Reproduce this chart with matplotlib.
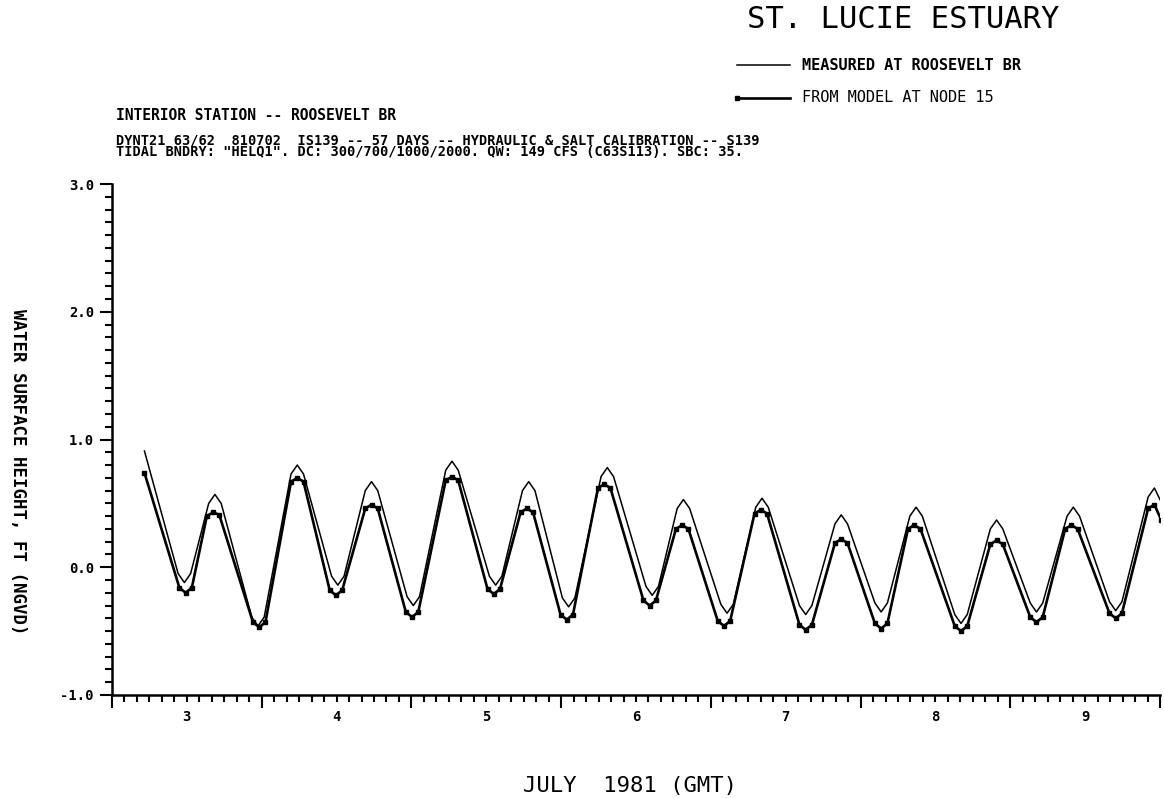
import matplotlib
matplotlib.use("Agg")
import matplotlib.pyplot as plt
from matplotlib.lines import Line2D

# ---- data: hours after 00:00 GMT, 3 July 1981; water surface height, ft NGVD ----
measured_hours = [
    5.2, 10.6, 11.6, 12.6, 15.5, 16.5, 17.5, 22.4, 23.4, 24.4,
    28.7, 29.7, 30.7, 35.2, 36.2, 37.2, 40.6, 41.6, 42.6, 47.3,
    48.3, 49.3, 53.5, 54.5, 55.5, 60.5, 61.5, 62.5, 65.8, 66.8,
    67.8, 72.2, 73.2, 74.2, 78.4, 79.4, 80.4, 85.6, 86.6, 87.6,
    90.6, 91.6, 92.6, 97.6, 98.6, 99.6, 103.2, 104.2, 105.2, 110.2,
    111.2, 112.2, 115.9, 116.9, 117.9, 122.3, 123.3, 124.3, 127.9, 128.9,
    129.9, 135.1, 136.1, 137.1, 140.8, 141.8, 142.8, 147.2, 148.2, 149.2,
    153.1, 154.1, 155.1, 159.9, 160.9, 161.9, 166.1, 167.1, 168.2,
]
measured_ft = [
    0.91, -0.05, -0.12, -0.05, 0.50, 0.57, 0.50, -0.39, -0.46, -0.39,
    0.73, 0.80, 0.73, -0.07, -0.14, -0.07, 0.60, 0.67, 0.60, -0.23,
    -0.30, -0.23, 0.76, 0.83, 0.76, -0.07, -0.14, -0.07, 0.60, 0.67,
    0.60, -0.24, -0.31, -0.24, 0.71, 0.78, 0.71, -0.15, -0.22, -0.15,
    0.46, 0.53, 0.46, -0.29, -0.36, -0.29, 0.47, 0.54, 0.47, -0.30,
    -0.37, -0.30, 0.34, 0.41, 0.34, -0.28, -0.35, -0.28, 0.40, 0.47,
    0.40, -0.37, -0.44, -0.37, 0.30, 0.37, 0.30, -0.28, -0.35, -0.28,
    0.40, 0.47, 0.40, -0.27, -0.34, -0.27, 0.55, 0.62, 0.51,
]

model_hours = [
    5.2, 10.8, 11.8, 12.8, 15.2, 16.2, 17.2, 22.6, 23.6, 24.6,
    28.7, 29.7, 30.7, 34.9, 35.9, 36.9, 40.6, 41.6, 42.6, 47.1,
    48.1, 49.1, 53.5, 54.5, 55.5, 60.2, 61.2, 62.2, 65.5, 66.5,
    67.5, 71.9, 72.9, 73.9, 77.9, 78.9, 79.9, 85.2, 86.2, 87.2,
    90.4, 91.4, 92.4, 97.1, 98.1, 99.1, 103.0, 104.0, 105.0, 110.2,
    111.2, 112.2, 115.9, 116.9, 117.9, 122.3, 123.3, 124.3, 127.6, 128.6,
    129.6, 135.1, 136.1, 137.1, 140.8, 141.8, 142.8, 147.2, 148.2, 149.2,
    152.8, 153.8, 154.8, 159.9, 160.9, 161.9, 166.1, 167.1, 168.2,
]
model_ft = [
    0.74, -0.16, -0.20, -0.16, 0.40, 0.43, 0.41, -0.43, -0.47, -0.43,
    0.67, 0.70, 0.67, -0.18, -0.22, -0.18, 0.46, 0.49, 0.46, -0.35,
    -0.39, -0.35, 0.68, 0.71, 0.68, -0.17, -0.21, -0.17, 0.43, 0.46,
    0.43, -0.37, -0.41, -0.37, 0.62, 0.65, 0.62, -0.26, -0.30, -0.26,
    0.30, 0.33, 0.30, -0.42, -0.46, -0.42, 0.42, 0.45, 0.42, -0.45,
    -0.49, -0.45, 0.19, 0.22, 0.19, -0.44, -0.48, -0.44, 0.30, 0.33,
    0.30, -0.46, -0.50, -0.46, 0.18, 0.21, 0.18, -0.39, -0.43, -0.39,
    0.30, 0.33, 0.30, -0.36, -0.40, -0.36, 0.46, 0.49, 0.37,
]

day_labels = ["3", "4", "5", "6", "7", "8", "9"]
y_major = [-1.0, 0.0, 1.0, 2.0, 3.0]
y_labels = ["-1.0", "0.0", "1.0", "2.0", "3.0"]

title = "ST. LUCIE ESTUARY"
legend_measured = "MEASURED AT ROOSEVELT BR"
legend_model = "FROM MODEL AT NODE 15"
station_line = "INTERIOR STATION -- ROOSEVELT BR"
run_line1 = "DYNT21 63/62  810702  IS139 -- 57 DAYS -- HYDRAULIC & SALT CALIBRATION -- S139"
run_line2 = 'TIDAL BNDRY: "HELQ1". DC: 300/700/1000/2000. QW: 149 CFS (C63S113). SBC: 35.'
y_title = "WATER SURFACE HEIGHT, FT (NGVD)"
x_title = "JULY  1981 (GMT)"

# ---- figure ----
W, H = 1164, 798
plt.rcParams["font.family"] = "DejaVu Sans Mono"


def fx(px):
    return px / W


def fy(py):
    return 1 - py / H


fig = plt.figure(figsize=(W / 100, H / 100), dpi=100)
ax_left, ax_right, ax_top, ax_bottom = 112, 1160, 184, 695
ax = fig.add_axes([fx(ax_left), fy(ax_bottom),
                   (ax_right - ax_left) / W, (ax_bottom - ax_top) / H])

ax.plot(measured_hours, measured_ft, color="black", lw=1.1, solid_joinstyle="round")
ax.plot(model_hours, model_ft, color="black", lw=1.9, marker="s", ms=2.2,
        solid_joinstyle="round")

ax.set_xlim(0, 168)
ax.set_ylim(-1.0, 3.0)

for side in ("top", "right"):
    ax.spines[side].set_visible(False)
for side in ("left", "bottom"):
    ax.spines[side].set_linewidth(1.8)

# y axis: labelled every foot, ticks every tenth
ax.set_yticks(y_major)
ax.set_yticklabels(y_labels)
ax.set_yticks([i / 10 for i in range(-10, 31) if i % 10], minor=True)

# x axis: long ticks at midnight, short ticks every two hours, day number at noon
ax.set_xticks([24 * d for d in range(8)])
ax.set_xticklabels([])
minor_pos = [h for h in range(2, 168, 2) if h % 24]
ax.set_xticks(minor_pos, minor=True)
ax.set_xticklabels([day_labels[(h - 12) // 24] if h % 24 == 12 else "" for h in minor_pos],
                   minor=True)

ax.tick_params(axis="both", which="both", direction="out", width=1.5, color="black")
ax.tick_params(axis="y", which="major", length=9, pad=4, labelsize=10)
ax.tick_params(axis="y", which="minor", length=5)
ax.tick_params(axis="x", which="major", length=9)
ax.tick_params(axis="x", which="minor", length=5, pad=6, labelsize=10)
for lab in ax.get_yticklabels() + ax.get_xticklabels(minor=True):
    lab.set_fontweight("bold")

# ---- headings and legend ----
fig.text(fx(903), fy(20), title, ha="center", va="center", fontsize=22)

fig.add_artist(Line2D([fx(737), fx(790)], [fy(65), fy(65)],
                      transform=fig.transFigure, color="black", lw=1.1))
fig.add_artist(Line2D([fx(737), fx(790)], [fy(98), fy(98)],
                      transform=fig.transFigure, color="black", lw=1.9,
                      marker="s", ms=2.6, markevery=[0]))
fig.text(fx(802), fy(65), legend_measured, va="center", fontsize=11, fontweight="bold")
fig.text(fx(802), fy(98), legend_model, va="center", fontsize=11)

fig.text(fx(116), fy(115), station_line, va="center", fontsize=10.5, fontweight="bold")
fig.text(fx(116), fy(140), run_line1, va="center", fontsize=9.8, fontweight="bold")
fig.text(fx(116), fy(152), run_line2, va="center", fontsize=9.8, fontweight="bold")

fig.text(fx(18), fy(472), y_title, rotation=270, ha="center", va="center",
         fontsize=12.5, fontweight="bold")
fig.text(fx(630), fy(786), x_title, ha="center", va="center", fontsize=16)

fig.savefig("out.png", dpi=100, facecolor="white")
